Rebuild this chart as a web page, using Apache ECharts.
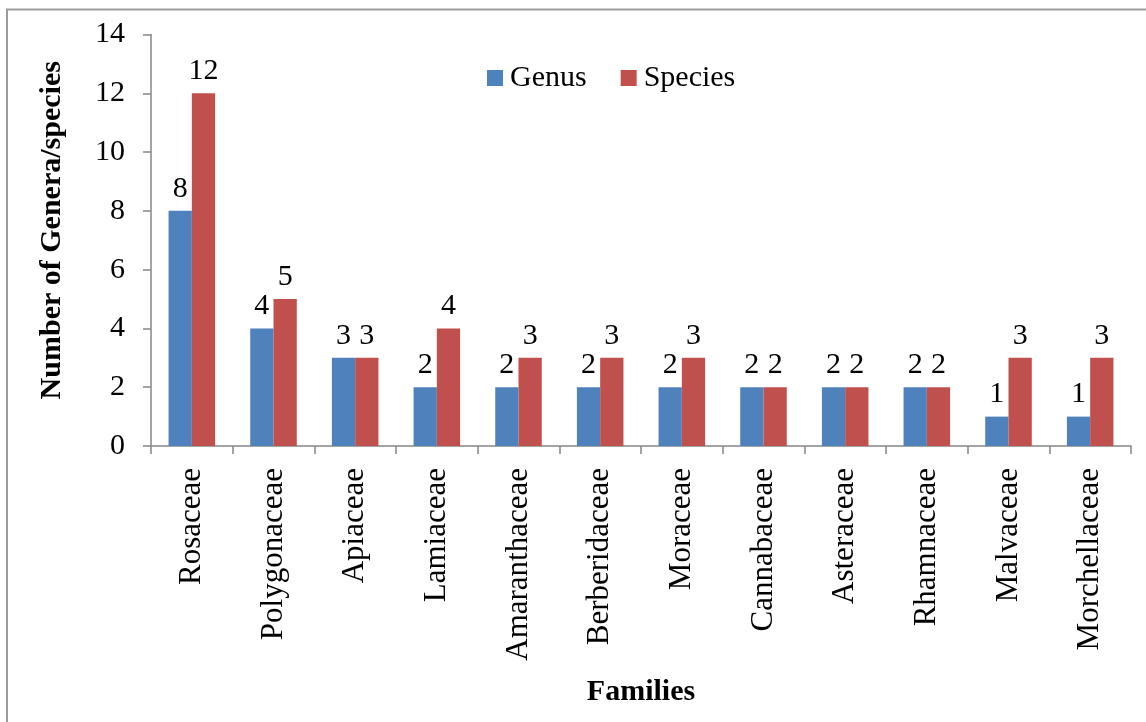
<!DOCTYPE html>
<html>
<head>
<meta charset="utf-8">
<script src="https://cdn.jsdelivr.net/npm/echarts@6/dist/echarts.min.js"></script>
<style>
  html, body { margin: 0; padding: 0; background: #fff; }
  #chart { width: 1146px; height: 722px; }
</style>
</head>
<body>
<div id="chart"></div>
<script>
// Families and the number of genera / species recorded in each
const families = ['Rosaceae', 'Polygonaceae', 'Apiaceae', 'Lamiaceae', 'Amaranthaceae',
  'Berberidaceae', 'Moraceae', 'Cannabaceae', 'Asteraceae', 'Rhamnaceae', 'Malvaceae', 'Morchellaceae'];
const genusCounts = [8, 4, 3, 2, 2, 2, 2, 2, 2, 2, 1, 1];
const speciesCounts = [12, 5, 3, 4, 3, 3, 3, 2, 2, 2, 3, 3];

const FONT = "'Liberation Serif', 'Times New Roman', serif";
const AXIS_COLOR = '#868686';

const chart = echarts.init(document.getElementById('chart'), null, { renderer: 'canvas' });

const valueLabel = {
  show: true,
  position: 'top',
  distance: 7,
  color: '#000',
  fontFamily: FONT,
  fontSize: 30
};

chart.setOption({
  animation: false,
  backgroundColor: '#fff',
  textStyle: { fontFamily: FONT },
  graphic: [{
    type: 'rect',
    shape: { x: 7, y: 9.5, width: 1300, height: 900 },
    style: { fill: 'none', stroke: '#9a9a9a', lineWidth: 2 },
    silent: true
  }],
  legend: {
    data: ['Genus', 'Species'],
    left: 487,
    top: 63,
    padding: 0,
    itemWidth: 16,
    itemHeight: 16,
    itemGap: 34,
    icon: 'rect',
    textStyle: { fontFamily: FONT, fontSize: 30, color: '#000', padding: [0, 0, 0, 2] }
  },
  grid: { left: 151, right: 15, top: 34.5, bottom: 276, containLabel: false },
  xAxis: {
    type: 'category',
    data: families,
    name: 'Families',
    nameLocation: 'middle',
    nameGap: 231,
    nameTextStyle: { fontFamily: FONT, fontSize: 30, fontWeight: 'bold', color: '#000' },
    axisLine: { lineStyle: { color: AXIS_COLOR, width: 1.5 } },
    axisTick: { show: true, alignWithLabel: false, length: 8, lineStyle: { color: AXIS_COLOR, width: 1.5 } },
    axisLabel: { rotate: 90, margin: 22, fontFamily: FONT, fontSize: 31, color: '#000', interval: 0 }
  },
  yAxis: {
    type: 'value',
    min: 0,
    max: 14,
    interval: 2,
    name: 'Number of Genera/species',
    nameLocation: 'middle',
    nameGap: 84,
    nameTextStyle: { fontFamily: FONT, fontSize: 30, fontWeight: 'bold', color: '#000', padding: [0, 0, 0, 20] },
    axisLine: { show: true, lineStyle: { color: AXIS_COLOR, width: 1.5 } },
    axisTick: { show: true, length: 8, lineStyle: { color: AXIS_COLOR, width: 1.5 } },
    axisLabel: { margin: 26, fontFamily: FONT, fontSize: 30, color: '#000' },
    splitLine: { show: false }
  },
  series: [
    {
      name: 'Genus',
      type: 'bar',
      data: genusCounts,
      barGap: '0%',
      barCategoryGap: '43%',
      itemStyle: { color: '#4F81BD' },
      label: valueLabel
    },
    {
      name: 'Species',
      type: 'bar',
      data: speciesCounts,
      itemStyle: { color: '#C0504D' },
      label: valueLabel
    }
  ]
});
</script>
</body>
</html>
